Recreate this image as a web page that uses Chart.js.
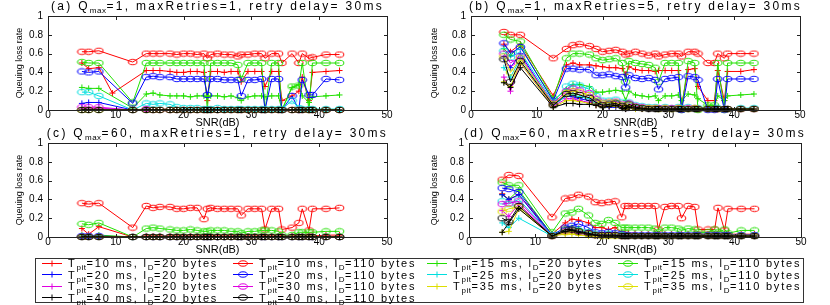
<!DOCTYPE html>
<html>
<head>
<meta charset="utf-8">
<script src="https://cdn.jsdelivr.net/npm/chart.js@4.4.1/dist/chart.umd.min.js"></script>
<style>
  body { margin: 0; background: #fff; font-family: "Liberation Sans", Arial, sans-serif; }
  #wrap { position: relative; width: 830px; height: 305px; overflow: hidden; }
  #wrap canvas { position: absolute; }
  .ttl { position: absolute; font-size: 12px; line-height: 13px; letter-spacing: 2.3px; text-align: center; white-space: nowrap; color: #000; }
  .ttl sub, .item sub { font-size: 8px; vertical-align: -3px; line-height: 0; letter-spacing: 0.5px; }
  .frame { position: absolute; border: 1px solid #222; box-sizing: border-box; }
  .tk { position: absolute; background: #222; }
  #legend { position: absolute; left: 35px; top: 258px; width: 769px; height: 45px; border: 1px solid #333; box-sizing: border-box; }
  .item { position: absolute; height: 12px; display: flex; align-items: center; font-size: 11px; letter-spacing: 1.8px; white-space: nowrap; color: #000; }
  .item svg { margin-right: 6px; }
</style>
</head>
<body>
<div id="wrap">
  <canvas id="pa" width="400" height="130" style="left:0;top:0"></canvas>
  <canvas id="pb" width="415" height="130" style="left:415px;top:0"></canvas>
  <canvas id="pc" width="400" height="130" style="left:0;top:127px"></canvas>
  <canvas id="pd" width="415" height="130" style="left:415px;top:127px"></canvas>
  <div id="legend"></div>
</div>
<script>
const _ = null;

// SNR (dB) sample points shared by all curves
const snr = [5, 6, 7.5, 9.5, 12.5,  14.5, 15.5, 16.5, 18, 19,  20, 21, 22, 23, 23.5,  24, 25, 26, 27, 28,
             28.5, 29.5, 30.5, 31.5, 32,  33, 34, 34.5, 36, 37,  37.5, 38.5, 39, 41, 43];

// series: T_pit (ms) x l_D (bytes), in legend order
const periods = [10, 15, 20, 25, 30, 35, 40];
const sizes = [20, 110];
const periodColors = ['#ff0000', '#22e000', '#0000ff', '#00dede', '#e000e0', '#dede00', '#000000'];

const panelLetters = ['a', 'b', 'c', 'd'];
const qmax = [1, 1, 60, 60];
const maxRetries = [1, 5, 1, 5];
const retryDelay = 30;

const xTicks = [0, 10, 20, 30, 40, 50];
const yTicks = [0, 0.2, 0.4, 0.6, 0.8, 1];

// (a) Qmax=1, maxRetries=1
const lossA = [
  [0.50,0.44,0.45,0.18,_,  0.42,0.42,0.42,0.41,0.40,  0.40,0.41,0.41,0.40,0.10,  0.41,0.41,0.40,0.41,0.41,  0.30,0.41,0.41,0.41,0.25,  0.41,0.41,0.10,0.15,0.20,  0.35,0.10,0.40,0.41,0.42],
  [0.62,0.62,0.63,_,0.51,  0.60,0.60,0.60,0.60,0.59,  0.60,0.60,0.59,0.60,0.55,  0.59,0.60,0.59,0.59,0.57,  0.59,0.59,0.60,0.60,0.55,  0.60,0.60,0.50,0.60,0.50,  0.60,0.55,0.56,0.59,0.59],
  [0.24,0.23,0.23,_,0.02,  0.17,0.18,0.16,0.15,0.15,  0.15,0.14,0.15,0.15,0.14,  0.15,0.15,0.14,0.15,0.13,  0.10,0.14,0.15,0.15,0.14,  0.15,0.15,0.00,0.24,0.27,  0.15,0.08,0.14,0.15,0.16],
  [0.51,0.50,0.50,_,0.08,  0.50,0.50,0.50,0.50,0.50,  0.50,0.50,0.50,0.50,0.00,  0.50,0.50,0.50,0.50,0.48,  0.33,0.50,0.50,0.50,0.00,  0.50,0.50,0.00,0.25,0.26,  0.50,0.00,0.50,0.50,0.50],
  [0.07,0.08,0.08,_,0,  0.01,0,0,0,0,  0,0,0,0,0,  0,0,0,0,0,  0,0,0,0,0,  0,0,0,0,0,  0,0,0,0,0],
  [0.41,0.40,0.41,_,0.07,  0.35,0.36,0.35,0.35,0.33,  0.33,0.33,0.33,0.33,0.16,  0.33,0.33,0.32,0.32,0.32,  0.15,0.32,0.32,0.33,0.00,  0.33,0.33,0.00,0.15,0.00,  0.32,0.16,0.16,0.33,0.32],
  [0.02,0.01,0.01,_,0,  0,0,0,0,0,  0,0,0,0,0,  0,0,0,0,0,  0,0,0,0,0,  0,0,0,0,0,  0,0,0,0,0],
  [0.19,0.19,0.15,_,0,  0.07,0.06,0.07,0.06,0.03,  0.02,0.02,0.02,0.01,0.01,  0.01,0.02,0.01,0.01,0.01,  0.01,0.01,0.01,0.01,0.01,  0.01,0.01,0.01,0.10,0.02,  0.01,0.01,0.01,0.01,0.01],
  [0.02,0.01,0.02,_,0,  0,0,0,0,0,  0,0,0,0,0,  0,0,0,0,0,  0,0,0,0,0,  0,0,0,0,0,  0,0,0,0,0],
  [0.03,0.03,0.03,_,0,  0.01,0,0,0,0,  0,0,0,0,0,  0,0,0,0,0,  0,0,0,0,0,  0,0,0,0,0,  0,0,0,0,0],
  [0,0,0,_,0,  0,0,0,0,0,  0,0,0,0,0,  0,0,0,0,0,  0,0,0,0,0,  0,0,0,0,0,  0,0,0,0,0],
  [0,0,0,_,0,  0,0,0,0,0,  0,0,0,0,0,  0,0,0,0,0,  0,0,0,0,0,  0,0,0,0,0,  0,0,0,0,0],
  [0,0,0,_,0,  0,0,0,0,0,  0,0,0,0,0,  0,0,0,0,0,  0,0,0,0,0,  0,0,0,0,0,  0,0,0,0,0],
  [0,0,0,_,0,  0,0,0,0,0,  0,0,0,0,0,  0,0,0,0,0,  0,0,0,0,0,  0,0,0,0,0,  0,0,0,0,0]
];

// (b) Qmax=1, maxRetries=5
const lossB = [
  [0.70,0.62,0.70,_,0.15,  0.48,0.50,0.48,0.48,0.47,  0.46,0.45,0.45,0.44,0.38,  0.46,0.43,0.42,0.42,0.41,  0.42,0.42,0.42,0.42,0.05,  0.43,0.44,0.25,0.10,0.10,  0.42,0.10,0.41,0.41,0.43],
  [0.83,0.80,0.80,_,0.55,  0.65,0.69,0.70,0.68,0.65,  0.62,0.63,0.64,0.62,0.59,  0.60,0.62,0.60,0.58,0.60,  0.57,0.59,0.60,0.60,0.57,  0.62,0.62,0.60,0.50,0.50,  0.60,0.55,0.60,0.60,0.60],
  [0.65,0.58,0.68,_,0.10,  0.22,0.27,0.27,0.25,0.19,  0.19,0.20,0.21,0.20,0.10,  0.20,0.16,0.15,0.14,0.15,  0.10,0.15,0.15,0.16,0.10,  0.17,0.16,0.12,0.05,0.05,  0.15,0.10,0.15,0.16,0.17],
  [0.80,0.75,0.73,_,0.12,  0.55,0.60,0.60,0.59,0.55,  0.53,0.54,0.55,0.50,0.30,  0.52,0.50,0.49,0.48,0.45,  0.30,0.50,0.50,0.50,0.00,  0.52,0.50,0.00,0.05,0.05,  0.50,0.00,0.50,0.50,0.50],
  [0.55,0.45,0.60,_,0.05,  0.15,0.14,0.12,0.10,0.06,  0.04,0.03,0.03,0.02,0.01,  0.02,0.01,0.01,0.01,0.01,  0.01,0.01,0.01,0.01,0.01,  0.01,0.01,0.01,0.01,0.01,  0.01,0.01,0.01,0.01,0.01],
  [0.71,0.60,0.67,_,0.10,  0.44,0.44,0.43,0.43,0.37,  0.37,0.38,0.36,0.35,0.24,  0.37,0.34,0.33,0.34,0.32,  0.22,0.33,0.34,0.35,0.00,  0.36,0.35,0.32,0.00,0.00,  0.33,0.00,0.33,0.33,0.33],
  [0.45,0.35,0.55,_,0.05,  0.15,0.16,0.14,0.12,0.08,  0.05,0.05,0.06,0.04,0.02,  0.04,0.02,0.02,0.01,0.01,  0.01,0.01,0.01,0.01,0.01,  0.01,0.01,0.01,0.01,0.01,  0.01,0.01,0.01,0.01,0.01],
  [0.63,0.56,0.62,_,0.08,  0.25,0.28,0.26,0.22,0.15,  0.10,0.10,0.11,0.08,0.04,  0.08,0.05,0.04,0.03,0.03,  0.02,0.03,0.02,0.03,0.02,  0.03,0.02,0.02,0.01,0.01,  0.02,0.01,0.01,0.02,0.02],
  [0.35,0.20,0.50,_,0.04,  0.12,0.12,0.10,0.08,0.05,  0.04,0.04,0.05,0.03,0.01,  0.03,0.02,0.01,0.01,0.01,  0.01,0.01,0.01,0.01,0.01,  0.01,0.01,0.01,0.01,0.01,  0.01,0.01,0.01,0.01,0.01],
  [0.60,0.50,0.57,_,0.07,  0.20,0.23,0.21,0.18,0.12,  0.08,0.08,0.09,0.06,0.03,  0.07,0.04,0.03,0.02,0.02,  0.02,0.02,0.02,0.02,0.01,  0.02,0.02,0.01,0.01,0.01,  0.01,0.01,0.01,0.01,0.01],
  [0.30,0.25,0.50,_,0.03,  0.10,0.10,0.09,0.07,0.05,  0.03,0.04,0.04,0.02,0.01,  0.03,0.01,0.01,0.01,0.01,  0.01,0.01,0.01,0.01,0.01,  0.01,0.01,0.01,0.01,0.01,  0.01,0.01,0.01,0.01,0.01],
  [0.57,0.40,0.55,_,0.06,  0.18,0.20,0.19,0.16,0.10,  0.07,0.08,0.08,0.05,0.03,  0.05,0.03,0.02,0.02,0.02,  0.01,0.02,0.01,0.02,0.01,  0.01,0.02,0.01,0.01,0.01,  0.01,0.01,0.01,0.01,0.01],
  [0.29,0.24,0.45,_,0.03,  0.07,0.07,0.06,0.06,0.05,  0.03,0.04,0.05,0.02,0.01,  0.03,0.02,0.01,0.01,0.01,  0.01,0.01,0.01,0.01,0.01,  0.01,0.01,0.01,0.01,0.01,  0.01,0.01,0.01,0.01,0.01],
  [0.54,0.30,0.52,_,0.05,  0.17,0.18,0.16,0.13,0.08,  0.05,0.06,0.07,0.04,0.02,  0.06,0.03,0.02,0.01,0.01,  0.01,0.01,0.01,0.01,0.01,  0.01,0.01,0.01,0.01,0.01,  0.01,0.01,0.01,0.01,0.01]
];

// (c) Qmax=60, maxRetries=1
const lossC = [
  [0.09,0.03,0.11,_,0.00,  0.01,0.01,0.01,0.01,0.01,  0.01,0.01,0.01,0.01,0.01,  0.01,0.01,0.01,0.01,0.01,  0.01,0.01,0.01,0.01,0.01,  0.01,0.01,0.01,0.01,0.01,  0.01,0.01,0.01,0.02,0.02],
  [0.36,0.35,0.36,_,0.10,  0.33,0.31,0.32,0.32,0.30,  0.30,0.31,0.31,0.19,0.30,  0.31,0.30,0.30,0.30,0.30,  0.23,0.30,0.30,0.30,0.08,  0.30,0.30,0.08,0.10,0.15,  0.30,0.07,0.30,0.30,0.31],
  [0.02,0.01,0.02,_,0,  0,0,0,0,0,  0,0,0,0,0,  0,0,0,0,0,  0,0,0,0,0,  0,0,0,0,0,  0,0,0,0,0],
  [0.14,0.13,0.15,_,0.00,  0.09,0.10,0.09,0.08,0.07,  0.07,0.08,0.07,0.06,0.06,  0.07,0.07,0.07,0.06,0.06,  0.04,0.06,0.06,0.07,0.07,  0.07,0.06,0.02,0.02,0.05,  0.05,0.05,0.05,0.06,0.06],
  [0,0,0,_,0,  0,0,0,0,0,  0,0,0,0,0,  0,0,0,0,0,  0,0,0,0,0,  0,0,0,0,0,  0,0,0,0,0],
  [0.01,0.01,0.01,_,0,  0,0,0,0,0,  0,0,0,0,0,  0,0,0,0,0,  0,0,0,0,0,  0,0,0,0,0,  0,0,0,0,0],
  [0,0,0,_,0,  0,0,0,0,0,  0,0,0,0,0,  0,0,0,0,0,  0,0,0,0,0,  0,0,0,0,0,  0,0,0,0,0],
  [0,0,0,_,0,  0,0,0,0,0,  0,0,0,0,0,  0,0,0,0,0,  0,0,0,0,0,  0,0,0,0,0,  0,0,0,0,0],
  [0,0,0,_,0,  0,0,0,0,0,  0,0,0,0,0,  0,0,0,0,0,  0,0,0,0,0,  0,0,0,0,0,  0,0,0,0,0],
  [0,0,0,_,0,  0,0,0,0,0,  0,0,0,0,0,  0,0,0,0,0,  0,0,0,0,0,  0,0,0,0,0,  0,0,0,0,0],
  [0,0,0,_,0,  0,0,0,0,0,  0,0,0,0,0,  0,0,0,0,0,  0,0,0,0,0,  0,0,0,0,0,  0,0,0,0,0],
  [0,0,0,_,0,  0,0,0,0,0,  0,0,0,0,0,  0,0,0,0,0,  0,0,0,0,0,  0,0,0,0,0,  0,0,0,0,0],
  [0,0,0,_,0,  0,0,0,0,0,  0,0,0,0,0,  0,0,0,0,0,  0,0,0,0,0,  0,0,0,0,0,  0,0,0,0,0],
  [0,0,0,_,0,  0,0,0,0,0,  0,0,0,0,0,  0,0,0,0,0,  0,0,0,0,0,  0,0,0,0,0,  0,0,0,0,0]
];

// (d) Qmax=60, maxRetries=5
const lossD = [
  [0.46,0.40,0.45,_,0.03,  0.15,0.19,0.18,0.15,0.10,  0.10,0.08,0.10,0.05,0.05,  0.04,0.04,0.03,0.03,0.03,  0.03,0.03,0.03,0.03,0.03,  0.03,0.03,0.03,0.03,0.03,  0.03,0.03,0.03,0.03,0.03],
  [0.61,0.66,0.65,_,0.21,  0.41,0.42,0.45,0.43,0.37,  0.36,0.37,0.38,0.21,0.33,  0.33,0.33,0.33,0.33,0.33,  0.08,0.32,0.33,0.33,0.20,  0.33,0.32,0.08,0.08,0.08,  0.31,0.07,0.30,0.30,0.30],
  [0.45,0.40,0.50,_,0.02,  0.07,0.10,0.09,0.06,0.04,  0.04,0.05,0.04,0.03,0.02,  0.02,0.02,0.02,0.02,0.02,  0.02,0.02,0.02,0.02,0.02,  0.02,0.02,0.02,0.02,0.02,  0.02,0.02,0.02,0.02,0.02],
  [0.58,0.55,0.55,_,0.05,  0.25,0.26,0.30,0.23,0.15,  0.14,0.18,0.15,0.10,0.10,  0.10,0.10,0.10,0.10,0.09,  0.05,0.10,0.10,0.09,0.07,  0.09,0.08,0.05,0.05,0.08,  0.05,0.08,0.04,0.07,0.07],
  [0.45,0.40,0.45,_,0.01,  0.06,0.08,0.06,0.04,0.02,  0.02,0.02,0.02,0.01,0.01,  0.01,0.01,0.01,0.01,0.01,  0.01,0.01,0.01,0.01,0.01,  0.01,0.01,0.01,0.01,0.01,  0.01,0.01,0.01,0.01,0.01],
  [0.52,0.51,0.48,_,0.02,  0.10,0.12,0.14,0.10,0.05,  0.04,0.05,0.04,0.03,0.02,  0.02,0.02,0.02,0.02,0.02,  0.02,0.02,0.02,0.02,0.02,  0.02,0.02,0.02,0.02,0.02,  0.02,0.02,0.02,0.02,0.02],
  [0.15,0.10,0.20,_,0.01,  0.04,0.05,0.04,0.02,0.01,  0.01,0.01,0.01,0.01,0.01,  0.01,0.01,0.01,0.01,0.01,  0.01,0.01,0.01,0.01,0.01,  0.01,0.01,0.01,0.01,0.01,  0.01,0.01,0.01,0.01,0.01],
  [0.38,0.35,0.40,_,0.02,  0.07,0.08,0.07,0.05,0.03,  0.02,0.03,0.02,0.02,0.01,  0.01,0.01,0.01,0.01,0.01,  0.01,0.01,0.01,0.01,0.01,  0.01,0.01,0.01,0.01,0.01,  0.01,0.01,0.01,0.01,0.01],
  [0.28,0.22,0.35,_,0.01,  0.04,0.05,0.04,0.02,0.01,  0.01,0.01,0.01,0.01,0.01,  0.01,0.01,0.01,0.01,0.01,  0.01,0.01,0.01,0.01,0.01,  0.01,0.01,0.01,0.01,0.01,  0.01,0.01,0.01,0.01,0.01],
  [0.35,0.36,0.38,_,0.01,  0.06,0.07,0.05,0.04,0.02,  0.02,0.02,0.02,0.01,0.01,  0.01,0.01,0.01,0.01,0.01,  0.01,0.01,0.01,0.01,0.01,  0.01,0.01,0.01,0.01,0.01,  0.01,0.01,0.01,0.01,0.01],
  [0.05,0.06,0.30,_,0.01,  0.03,0.03,0.02,0.01,0.01,  0.01,0.01,0.01,0.01,0.01,  0.01,0.01,0.01,0.01,0.01,  0.01,0.01,0.01,0.01,0.01,  0.01,0.01,0.01,0.01,0.01,  0.01,0.01,0.01,0.01,0.01],
  [0.27,0.30,0.32,_,0.01,  0.05,0.06,0.05,0.03,0.02,  0.01,0.01,0.01,0.01,0.01,  0.01,0.01,0.01,0.01,0.01,  0.01,0.01,0.01,0.01,0.01,  0.01,0.01,0.01,0.01,0.01,  0.01,0.01,0.01,0.01,0.01],
  [0.05,0.15,0.30,_,0.01,  0.06,0.07,0.05,0.03,0.02,  0.01,0.01,0.01,0.01,0.01,  0.01,0.01,0.01,0.01,0.01,  0.01,0.01,0.01,0.01,0.01,  0.01,0.01,0.01,0.01,0.01,  0.01,0.01,0.01,0.01,0.01],
  [0.20,0.16,0.33,_,0.01,  0.08,0.08,0.06,0.04,0.02,  0.02,0.02,0.02,0.01,0.01,  0.01,0.01,0.01,0.01,0.01,  0.01,0.01,0.01,0.01,0.01,  0.01,0.01,0.01,0.01,0.01,  0.01,0.01,0.01,0.01,0.01]
];

const panelData = [lossA, lossB, lossC, lossD];

// layout of the four axes (canvas placement and plot box inside each canvas)
const panels = [
  { id: 'pa', left: 0,   top: 0,   w: 400, h: 130, box: { l: 48, r: 387, t: 16, b: 110 } },
  { id: 'pb', left: 415, top: 0,   w: 415, h: 130, box: { l: 56, r: 385, t: 16, b: 110 } },
  { id: 'pc', left: 0,   top: 127, w: 400, h: 130, box: { l: 48, r: 387, t: 16, b: 110 } },
  { id: 'pd', left: 415, top: 127, w: 415, h: 130, box: { l: 54, r: 386, t: 16, b: 110 } }
];

const FONT = '"Liberation Sans", Arial, sans-serif';
const axisLine = { display: true, color: '#222222', width: 1 };

// hollow "o" marker, a bit wider than tall like the original figure
function ring(color) {
  const c = document.createElement('canvas');
  c.width = 11; c.height = 8;
  const g = c.getContext('2d');
  g.strokeStyle = color;
  g.lineWidth = 1;
  g.beginPath();
  g.ellipse(5.5, 4, 4.3, 2.7, 0, 0, Math.PI * 2);
  g.stroke();
  return c;
}
const rings = periodColors.map(ring);

function seriesLabel(k) {
  const p = periods[Math.floor(k / 2)], s = sizes[k % 2];
  return 'T<sub>pit</sub>=' + p + ' ms, l<sub>D</sub>=' + s + ' bytes';
}

function makeDatasets(rows) {
  return rows.map((vals, k) => {
    const col = periodColors[Math.floor(k / 2)];
    const plus = k % 2 === 0;
    return {
      label: 'T_pit=' + periods[Math.floor(k / 2)] + ' ms, l_D=' + sizes[k % 2] + ' bytes',
      data: snr.map((x, i) => ({ x: x, y: vals[i] })),
      borderColor: col,
      backgroundColor: col,
      borderWidth: 1,
      pointStyle: plus ? 'cross' : rings[Math.floor(k / 2)],
      pointRadius: plus ? 3 : 4,
      pointBorderColor: col,
      pointBorderWidth: 1,
      spanGaps: true,
      clip: false,
      tension: 0,
      order: 20 - k
    };
  });
}

const tickText = v => (v === 0 || v === 1) ? String(v) : v.toFixed(1);

const wrap = document.getElementById('wrap');

function addDiv(cls, l, t, w, h) {
  const d = document.createElement('div');
  d.className = cls;
  d.style.left = l + 'px'; d.style.top = t + 'px';
  d.style.width = w + 'px'; d.style.height = h + 'px';
  wrap.appendChild(d);
}

// axes box with short inward ticks; pixel positions come from the scale when it is ready,
// otherwise from the planned plot box
function addBox(chart, p) {
  const b = p.box;
  const L = p.left + b.l, R = p.left + b.r, T = p.top + b.t, B = p.top + b.b;
  addDiv('frame', L, T, R - L + 1, B - T + 1);
  const xs = chart && chart.scales && chart.scales.x;
  const ys = chart && chart.scales && chart.scales.y;
  xTicks.forEach(v => {
    let px = xs ? xs.getPixelForValue(v) : NaN;
    if (!isFinite(px)) px = b.l + (v / 50) * (b.r - b.l);
    const x = p.left + Math.round(px);
    addDiv('tk', x, T, 1, 4);
    addDiv('tk', x, B - 3, 1, 4);
  });
  yTicks.forEach(v => {
    let py = ys ? ys.getPixelForValue(v) : NaN;
    if (!isFinite(py)) py = b.b - v * (b.b - b.t);
    const y = p.top + Math.round(py);
    addDiv('tk', L, y, 4, 1);
    addDiv('tk', R - 3, y, 4, 1);
  });
}

panels.forEach((p, n) => {
  const b = p.box;
  const chart = new Chart(document.getElementById(p.id), {
    type: 'line',
    data: { datasets: makeDatasets(panelData[n]) },
    options: {
      responsive: false,
      animation: false,
      layout: { padding: { top: b.t, right: p.w - b.r, left: 0, bottom: 0 } },
      plugins: { legend: { display: false }, tooltip: { enabled: false } },
      scales: {
        x: {
          type: 'linear', min: 0, max: 50,
          grid: { display: false, drawTicks: false }, border: axisLine,
          ticks: { stepSize: 10, padding: -1, color: '#000', font: { family: FONT, size: 10 } },
          title: { display: true, text: 'SNR(dB)', color: '#000', padding: 0, font: { family: FONT, size: 11 } },
          afterFit: s => { s.height = p.h - b.b; }
        },
        y: {
          min: 0, max: 1,
          grid: { display: false, drawTicks: false }, border: axisLine,
          ticks: { stepSize: 0.2, padding: 5, color: '#000', font: { family: FONT, size: 10 }, callback: tickText },
          title: { display: true, text: 'Queuing loss rate', color: '#000', padding: { top: 14, bottom: 0 }, font: { family: FONT, size: 9 } },
          afterFit: s => { s.width = b.l; }
        }
      }
    }
  });
  addBox(chart, p);

  // panel title with subscript
  const t = document.createElement('div');
  t.className = 'ttl';
  t.style.left = (p.left + b.l - 30) + 'px';
  t.style.width = (b.r - b.l + 60) + 'px';
  t.style.top = p.top + 'px';
  t.innerHTML = '(' + panelLetters[n] + ') Q<sub>max</sub>=' + qmax[n] + ', maxRetries=' + maxRetries[n] +
                ', retry delay= ' + retryDelay + 'ms';
  wrap.appendChild(t);
});

// legend: 4 columns, filled row by row
const legCols = [42, 233, 427, 618];
const legRows = [263, 274.5, 286, 297.5];
for (let k = 0; k < periods.length * sizes.length; k++) {
  const col = periodColors[Math.floor(k / 2)];
  const plus = k % 2 === 0;
  const mark = plus
    ? '<line x1="10" y1="2.5" x2="10" y2="8.5" stroke="' + col + '"/><line x1="7" y1="5.5" x2="13" y2="5.5" stroke="' + col + '"/>'
    : '<ellipse cx="10" cy="5.5" rx="4.3" ry="2.7" fill="none" stroke="' + col + '"/>';
  const it = document.createElement('div');
  it.className = 'item';
  it.style.left = legCols[k % 4] + 'px';
  it.style.top = (legRows[Math.floor(k / 4)] - 6) + 'px';
  it.innerHTML = '<svg width="20" height="11"><line x1="0" y1="5.5" x2="20" y2="5.5" stroke="' + col +
                 '" stroke-width="1"/>' + mark + '</svg><span>' + seriesLabel(k) + '</span>';
  wrap.appendChild(it);
}
</script>
</body>
</html>
